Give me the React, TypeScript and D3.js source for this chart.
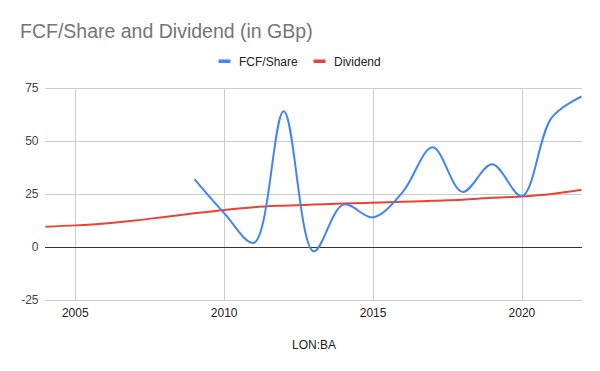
import React from "react";
import * as d3 from "d3";

const fcfYears = [2009, 2010, 2011, 2012, 2013, 2014, 2015, 2016, 2017, 2018, 2019, 2020, 2021, 2022];
const fcfValues = [32, 16, 2, 64, -2, 20, 14, 26, 47, 26, 39, 24, 61, 71];
const divYears = [2004, 2005, 2006, 2007, 2008, 2009, 2010, 2011, 2012, 2013, 2014, 2015, 2016, 2017, 2018, 2019, 2020, 2021, 2022];
const divValues = [9.6, 10.2, 11.1, 12.5, 14.2, 15.9, 17.5, 18.8, 19.5, 20, 20.5, 20.9, 21.3, 21.8, 22.3, 23.2, 23.8, 25, 27];
const xTicks = [2005, 2010, 2015, 2020];
const yTicks = [-25, 0, 25, 50, 75];

export default function App() {
  const W = 600, H = 371;
  const x = d3.scaleLinear().domain([2004, 2022]).range([45.5, 581.5]);
  const y = d3.scaleLinear().domain([-25, 75]).range([300, 88]);
  const curve = d3.curveCatmullRom.alpha(0.5);
  const fcfLine = d3.line<number>().x((_, i) => x(fcfYears[i])).y((d) => y(d)).curve(curve);
  const divLine = d3.line<number>().x((_, i) => x(divYears[i])).y((d) => y(d)).curve(curve);
  const font = "Arial, 'Liberation Sans', sans-serif";
  return (
    <svg width={W} height={H} style={{ position: "absolute", left: 0, top: 0, background: "#fff" }} fontFamily={font}>
      <rect width={W} height={H} fill="#fff" />
      <text x={20} y={37.5} fontSize={19.5} fill="#757575">FCF/Share and Dividend (in GBp)</text>
      <rect x={218.5} y={59.5} width={12} height={3.5} fill="#4285F4" />
      <text x={239} y={65.7} fontSize={12} fill="#222">FCF/Share</text>
      <rect x={313.5} y={59.5} width={12} height={3.5} fill="#EA4335" />
      <text x={334} y={65.7} fontSize={12} fill="#222">Dividend</text>
      {yTicks.map((t) => (
        <g key={"y" + t}>
          {t !== 0 && <line x1={45} x2={582} y1={Math.round(y(t)) + 0.5} y2={Math.round(y(t)) + 0.5} stroke="#cccccc" strokeWidth={1} />}
          <text x={38.5} y={y(t) + 4} fontSize={12} fill="#444" textAnchor="end">{t}</text>
        </g>
      ))}
      {xTicks.map((t) => (
        <g key={"x" + t}>
          <line x1={Math.round(x(t)) + 0.5} x2={Math.round(x(t)) + 0.5} y1={88} y2={300} stroke="#cccccc" strokeWidth={1} />
          <text x={x(t)} y={317} fontSize={12} fill="#222" textAnchor="middle">{t}</text>
        </g>
      ))}
      <line x1={45} x2={582} y1={Math.round(y(0)) + 0.5} y2={Math.round(y(0)) + 0.5} stroke="#333" strokeWidth={1} />
      <path d={divLine(divValues) || ""} fill="none" stroke="#EA4335" strokeWidth={2} />
      <path d={fcfLine(fcfValues) || ""} fill="none" stroke="#4285F4" strokeWidth={2} />
      <text x={314} y={348.5} fontSize={12} fill="#222" textAnchor="middle">LON:BA</text>
    </svg>
  );
}
